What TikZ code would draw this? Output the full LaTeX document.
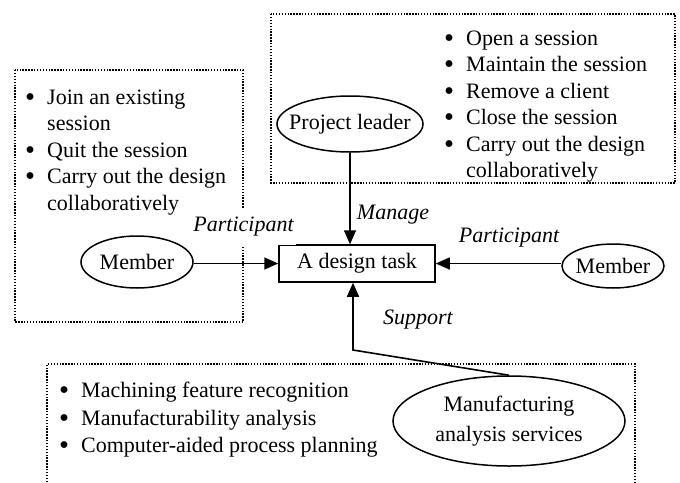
\documentclass[tikz,border=0pt]{standalone}
\usepackage{fontspec}
\setmainfont{Liberation Serif}
\usetikzlibrary{arrows.meta,shapes.geometric,calc}
\newcommand\lbul{\makebox[22pt][l]{\raisebox{-0.08em}{\scalebox{1.3}{\textbullet}}}}
\newcommand\lind{\hspace*{22pt}}
\begin{document}
\begin{tikzpicture}[x=1pt,y=-1pt,
  every node/.style={font=\fontsize{22}{26.5}\selectfont},
  dotbox/.style={draw,line width=1.4pt,dash pattern=on 1.4pt off 1.5pt},
  actor/.style={draw,ellipse,line width=1.5pt,inner sep=0pt},
  taskbox/.style={draw,rectangle,line width=1.5pt},
  link/.style={line width=1.6pt,-{Triangle[length=14pt,width=12pt]}},
  rolelabel/.style={font=\fontsize{22}{26.5}\selectfont\itshape,fill=white,inner sep=2pt},
  listtext/.style={anchor=north west,inner sep=0pt,align=left}
]
\useasboundingbox (0,0) rectangle (680,482);
\fill[white] (0,0) rectangle (680,482);

% dotted boxes
\draw[dotbox] (15,70) rectangle (243,322);
\draw[dotbox] (271,14) rectangle (675,183);
\draw[dotbox] (47,482) -- (47,364) -- (635,364) -- (635,482);

% lists
\node[listtext] (listL) at (25,85.5) {\strut\lbul Join an existing\\\lind session\\\lbul Quit the session\\\lbul Carry out the design\\\lind collaboratively};
\node[listtext] (listT) at (444,26.5) {\strut\lbul Open a session\\\lbul Maintain the session\\\lbul Remove a client\\\lbul Close the session\\\lbul Carry out the design\\\lind collaboratively};
\node[listtext,font=\fontsize{22}{27.5}\selectfont] (listB) at (59,378.5) {\strut\lbul Machining feature recognition\\\lbul Manufacturability analysis\\\lbul Computer-aided process planning};

% nodes
\node[taskbox,minimum width=156pt,minimum height=37pt] (task) at (357,263.5) {A design task};
\node[actor,inner xsep=-10pt,minimum width=146pt,minimum height=56pt] (leader) at (350,124) {Project leader};
\node[actor,minimum width=112pt,minimum height=52pt] (mL) at (137,262) {Member};
\node[actor,inner xsep=-2pt,minimum width=102pt,minimum height=44pt] (mR) at (613,266) {Member};
\node[actor,minimum width=232pt,minimum height=90pt,align=center,font=\fontsize{22}{30}\selectfont] (mfg) at (509,421) {Manufacturing\\analysis services};

% connectors
\coordinate (bend) at (353,350);
\draw[link] (leader.south) -- (leader.south |- task.north);
\draw[link] (task.west -| mL.east) -- (task.west);
\draw[link] (task.east -| mR.west) -- (task.east);
\draw[link] (mfg.north) -- (bend) -- (bend |- task.south);

% labels
\node[rolelabel,minimum height=37pt] (pL) at (243.5,226.5) {Participant};
\node[rolelabel] (pR) at (509,238) {Participant};
\node[rolelabel] (mg) at (393,215) {Manage};
\node[rolelabel] (sp) at (418,320) {Support};
\end{tikzpicture}
\end{document}
